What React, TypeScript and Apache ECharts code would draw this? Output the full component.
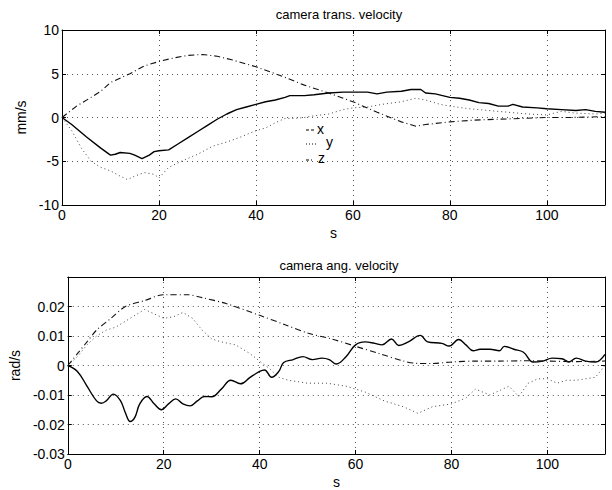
import React, { useEffect, useRef } from "react";
import * as echarts from "echarts";

// ---- Data: camera translational velocity (mm/s) ----
const transXTime = [0, 2, 5, 8, 10, 11, 12, 14, 15, 16.5, 18, 19, 20, 22, 24, 26, 28, 30, 32, 34, 36, 38, 40, 42, 44, 46, 47, 50, 52, 55, 58, 60, 63, 65, 67, 70, 72, 74, 75, 77, 80, 82, 84, 86, 88, 90, 92, 93, 95, 98, 100, 103, 106, 108, 110, 112];
const transXVals = [0, -0.8, -2.2, -3.5, -4.3, -4.2, -4.0, -4.1, -4.3, -4.7, -4.3, -3.9, -3.8, -3.7, -3.0, -2.3, -1.6, -0.9, -0.2, 0.4, 0.9, 1.2, 1.5, 1.8, 2.0, 2.3, 2.5, 2.5, 2.6, 2.8, 2.9, 2.9, 2.9, 2.7, 2.9, 3.0, 3.2, 3.2, 2.8, 2.7, 2.3, 2.2, 2.0, 1.7, 1.6, 1.3, 1.3, 1.5, 1.2, 1.1, 1.0, 0.9, 0.8, 0.9, 0.7, 0.6];

const transYTime = [0, 2, 4, 6, 8, 10, 12, 13.5, 15, 17, 19, 20, 22, 25, 28, 31, 34, 37, 40, 42, 44, 46, 48, 50, 52, 55, 58, 60, 63, 66, 70, 73, 75, 78, 80, 84, 88, 92, 96, 100, 103, 106, 110, 112];
const transYVals = [0, -1.5, -3.5, -5.0, -5.7, -6.1, -6.7, -7.1, -6.7, -6.3, -6.5, -6.9, -5.7, -4.9, -4.2, -3.3, -2.8, -2.2, -1.5, -1.2, -0.6, -0.1, -0.1, 0, 0.2, 0.4, 0.9, 1.1, 1.2, 1.5, 1.8, 2.2, 2.0, 1.5, 1.3, 1.0, 0.8, 0.6, 0.4, 0.3, 0.7, 0.5, 0.4, 0.5];

const transZTime = [0, 3, 6, 8, 10, 14, 17, 20, 23, 26, 29, 32, 35, 40, 45, 50, 55, 60, 65, 70, 73, 75, 80, 85, 90, 95, 100, 105, 112];
const transZVals = [0, 1.3, 2.3, 3.0, 4.0, 5.0, 5.9, 6.4, 6.8, 7.1, 7.2, 7.0, 6.6, 5.8, 4.8, 3.7, 2.8, 1.8, 0.6, -0.5, -1.0, -0.8, -0.5, -0.3, -0.2, -0.1, 0, 0, 0.1];

// ---- Data: camera angular velocity (rad/s) ----
const angXTime = [0, 2, 4, 6, 7, 8, 9.5, 11, 12, 13, 14, 15, 16.5, 18, 19.5, 21, 22.5, 24, 25.5, 27, 28.5, 30, 32, 34, 36, 38, 40, 41, 42.5, 44, 45, 47, 49, 51, 53, 54.5, 56, 58, 60, 62, 64, 65.5, 67.5, 69, 71, 73.5, 75, 78, 79.5, 81.5, 83, 84.5, 86, 88, 90, 91, 93, 95, 97, 99, 101, 103, 104.5, 106, 108, 110, 112];
const angXVals = [0, -0.002, -0.007, -0.012, -0.0128, -0.012, -0.0097, -0.012, -0.016, -0.019, -0.0175, -0.013, -0.0105, -0.013, -0.015, -0.013, -0.0113, -0.013, -0.0137, -0.012, -0.0105, -0.0106, -0.008, -0.005, -0.0062, -0.004, -0.002, -0.0015, -0.004, -0.002, 0.001, 0.002, 0.003, 0.002, 0.0025, 0.002, 0.0005, 0.003, 0.007, 0.008, 0.0075, 0.007, 0.009, 0.0068, 0.008, 0.0102, 0.008, 0.0075, 0.0066, 0.0088, 0.007, 0.005, 0.0055, 0.0055, 0.005, 0.0065, 0.0055, 0.0045, 0.0012, 0.0015, 0.0025, 0.0023, 0.0012, 0.0025, 0.0015, 0.0012, 0.0038];

const angYTime = [0, 2, 4, 6, 8, 10, 12, 14, 16, 18, 20, 22, 24, 26, 28, 30, 32, 35, 38, 40, 42, 44, 46, 50, 54, 58, 62, 66, 70, 73, 76, 80, 83, 85, 88, 90, 92, 94, 96, 98, 100, 102, 104, 106, 108, 110, 112];
const angYVals = [0, 0.003, 0.007, 0.01, 0.012, 0.013, 0.015, 0.017, 0.019, 0.0175, 0.016, 0.0165, 0.018, 0.016, 0.012, 0.009, 0.008, 0.007, 0.004, 0.0015, -0.001, -0.004, -0.005, -0.006, -0.006, -0.007, -0.009, -0.012, -0.014, -0.0162, -0.014, -0.013, -0.011, -0.008, -0.01, -0.0085, -0.007, -0.0105, -0.006, -0.0045, -0.0045, -0.006, -0.005, -0.005, -0.0045, -0.004, 0.0];

const angZTime = [0, 2, 4, 6, 9, 12, 16, 20, 25, 28, 33, 40, 45, 50, 55, 60, 65, 70, 73, 76, 80, 85, 90, 95, 100, 105, 112];
const angZVals = [0, 0.004, 0.008, 0.012, 0.016, 0.02, 0.022, 0.024, 0.024, 0.023, 0.021, 0.017, 0.014, 0.011, 0.009, 0.0065, 0.004, 0.0015, 0.0007, 0.0007, 0.0012, 0.0015, 0.0015, 0.0016, 0.0015, 0.0013, 0.0015];

const transTitle = "camera trans. velocity";
const angTitle = "camera ang. velocity";
const transYName = "mm/s";
const angYName = "rad/s";
const xName = "s";
const legendLabels = ["x", "y", "z"];

const zip = (t: number[], v: number[]) => t.map((ti, i) => [ti, v[i]]);

const FONT = "Liberation Sans";

export default function App() {
  const ref = useRef<HTMLDivElement>(null);
  useEffect(() => {
    if (!ref.current) return;
    const chart = echarts.init(ref.current, null, { renderer: "svg" });
    const lbl = { color: "#000", fontFamily: FONT, fontSize: 14 };
    const ttl = { color: "#000", fontFamily: FONT, fontSize: 13, fontWeight: "normal" as any };
    const gridLine = { show: true, lineStyle: { color: "#555", type: [1, 4] as any, width: 1 } };
    const mainX = (gi: number) => ({
      type: "value",
      gridIndex: gi,
      min: 0,
      max: 112,
      interval: 20,
      position: "bottom",
      name: xName,
      nameLocation: "middle",
      nameGap: 21,
      nameTextStyle: { ...lbl },
      axisLine: { show: true, onZero: false, lineStyle: { color: "#000", width: 1 } },
      axisTick: { show: true, inside: true, length: 4, lineStyle: { color: "#000" } },
      axisLabel: { ...lbl, margin: 3, showMaxLabel: false },
      splitLine: gridLine,
    });
    const topX = (gi: number) => ({
      type: "value",
      gridIndex: gi,
      min: 0,
      max: 112,
      interval: 20,
      position: "top",
      axisLine: { show: true, onZero: false, lineStyle: { color: "#000", width: 1 } },
      axisTick: { show: true, inside: true, length: 4, lineStyle: { color: "#000" } },
      axisLabel: { show: false },
      splitLine: { show: false },
    });
    const fmt = (max: number) => (v: number) => {
      if (Math.abs(v - max) < 1e-9 && max < 1) return "";
      return String(parseFloat(v.toFixed(4)));
    };
    const leftY = (gi: number, min: number, max: number, interval: number, name: string, gap: number) => ({
      type: "value",
      gridIndex: gi,
      min,
      max,
      interval,
      position: "left",
      name,
      nameLocation: "middle",
      nameGap: gap,
      nameRotate: 90,
      nameTextStyle: { ...lbl },
      axisLine: { show: true, onZero: false, lineStyle: { color: "#000", width: 1 } },
      axisTick: { show: true, inside: true, length: 4, lineStyle: { color: "#000" } },
      axisLabel: { ...lbl, margin: 3, formatter: fmt(max) },
      splitLine: gridLine,
    });
    const rightY = (gi: number, min: number, max: number, interval: number) => ({
      type: "value",
      gridIndex: gi,
      min,
      max,
      interval,
      position: "right",
      axisLine: { show: true, onZero: false, lineStyle: { color: "#000", width: 1 } },
      axisTick: { show: true, inside: true, length: 4, lineStyle: { color: "#000" } },
      axisLabel: { show: false },
      splitLine: { show: false },
    });
    const solid = { color: "#000", width: 1.4, type: "solid" as any };
    const dotted = { color: "#444", width: 1, type: [1, 3] as any };
    const dashdot = { color: "#111", width: 1.1, type: [6, 3, 1, 3] as any };
    const ser = (name: string, data: number[][], ls: any, xi: number, yi: number, smooth: any = false) => ({
      type: "line",
      name,
      data,
      xAxisIndex: xi,
      yAxisIndex: yi,
      showSymbol: false,
      smooth,
      lineStyle: ls,
      z: 3,
    });
    const lx = 306;
    const lf = `14px ${FONT}`;
    chart.setOption({
      animation: false,
      backgroundColor: "#fff",
      title: [
        { text: transTitle, left: 334, top: 3, textAlign: "center", textStyle: ttl },
        { text: angTitle, left: 334, top: 254, textAlign: "center", textStyle: ttl },
      ],
      grid: [
        { left: 62, right: 7, top: 30, height: 175 },
        { left: 62, right: 7, top: 277, height: 177 },
      ],
      xAxis: [mainX(0), topX(0), mainX(1), topX(1)],
      yAxis: [
        leftY(0, -10, 10, 5, transYName, 31),
        rightY(0, -10, 10, 5),
        leftY(1, -0.03, 0.03, 0.01, angYName, 43),
        rightY(1, -0.03, 0.03, 0.01),
      ],
      series: [
        ser("x", zip(transXTime, transXVals), solid, 0, 0),
        ser("y", zip(transYTime, transYVals), dotted, 0, 0),
        ser("z", zip(transZTime, transZVals), dashdot, 0, 0),
        ser("x ang", zip(angXTime, angXVals), solid, 2, 2, 0.4),
        ser("y ang", zip(angYTime, angYVals), dotted, 2, 2),
        ser("z ang", zip(angZTime, angZVals), dashdot, 2, 2, 0.3),
      ],
      graphic: [
        { type: "line", shape: { x1: lx, y1: 130, x2: lx + 8, y2: 130 }, style: { stroke: "#000", lineWidth: 1.2, lineDash: [3, 2] } },
        { type: "text", x: 317, y: 129, style: { text: legendLabels[0], fill: "#000", font: lf, verticalAlign: "middle" } },
        { type: "line", shape: { x1: lx, y1: 144, x2: lx + 12, y2: 144 }, style: { stroke: "#000", lineWidth: 1.2, lineDash: [1, 2] } },
        { type: "text", x: 326, y: 142, style: { text: legendLabels[1], fill: "#000", font: lf, verticalAlign: "middle" } },
        { type: "line", shape: { x1: lx, y1: 160, x2: lx + 8, y2: 160 }, style: { stroke: "#000", lineWidth: 1.2, lineDash: [3, 2, 1, 2] } },
        { type: "text", x: 318, y: 158, style: { text: legendLabels[2], fill: "#000", font: lf, verticalAlign: "middle" } },
      ],
    });
    return () => chart.dispose();
  }, []);
  return <div ref={ref} style={{ position: "fixed", left: 0, top: 0, width: 612, height: 490 }} />;
}
